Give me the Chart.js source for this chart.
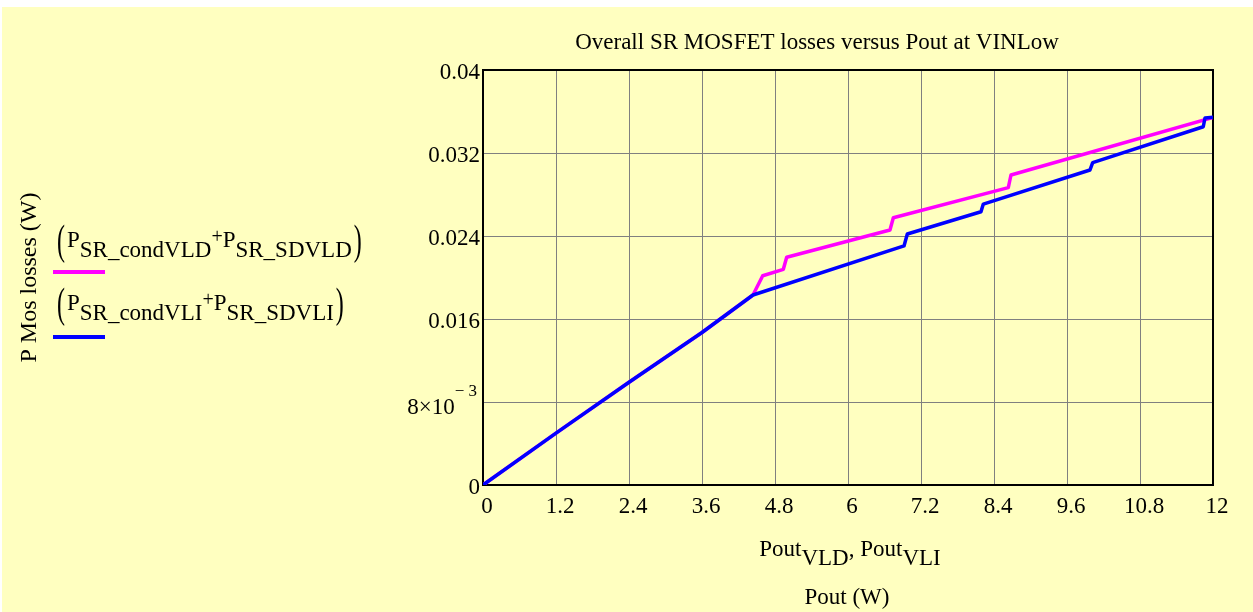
<!DOCTYPE html>
<html>
<head>
<meta charset="utf-8">
<script src="https://cdn.jsdelivr.net/npm/chart.js@4.4.1/dist/chart.umd.min.js"></script>
<style>
  html, body { margin: 0; padding: 0; background: #fff; }
  #wrap { width: 1253px; height: 612px; }
</style>
</head>
<body>
<div id="wrap"><canvas id="losses-chart" width="1253" height="612"></canvas></div>
<script>
// values (Pout in W, losses in W)
const poutVLD = [0, 1.2, 2.4, 3.6, 4.438, 4.598, 4.937, 4.992, 6.690, 6.745, 8.635, 8.679, 12.0];
const lossVLD = [0, 0.0050, 0.0099, 0.0147, 0.01831, 0.02017, 0.02079, 0.02195, 0.02458, 0.02576, 0.02866, 0.02988, 0.03544];

const poutVLI = [0, 1.2, 2.4, 3.6, 4.438, 6.921, 6.975, 8.186, 8.224, 9.978, 10.022, 11.84, 11.868, 12.0];
const lossVLI = [0, 0.0050, 0.0099, 0.0147, 0.01831, 0.02304, 0.02419, 0.02634, 0.02708, 0.03036, 0.03107, 0.03453, 0.03537, 0.03544];

const xTicks = [0, 1.2, 2.4, 3.6, 4.8, 6, 7.2, 8.4, 9.6, 10.8, 12];
const xTickLabels = ['0', '1.2', '2.4', '3.6', '4.8', '6', '7.2', '8.4', '9.6', '10.8', '12'];
const yTicks = [0, 0.008, 0.016, 0.024, 0.032, 0.04];
const yTickLabels = ['0', '8×10^− 3', '0.016', '0.024', '0.032', '0.04'];

const SERIF = "'Liberation Serif', 'Times New Roman', serif";
const W = 1253, H = 612;

function toPts(xs, ys) { return xs.map((x, i) => ({ x, y: ys[i] })); }

// draws a run of text pieces (subscripts etc.)
function drawRich(ctx, parts, x, y, align) {
  let total = 0;
  parts.forEach(p => {
    ctx.font = `${p.size}px ${SERIF}`;
    p.w = ctx.measureText(p.t).width + (p.gap || 0);
    total += p.w;
  });
  let cx = align === 'center' ? x - total / 2 : x;
  parts.forEach(p => {
    ctx.font = `${p.size}px ${SERIF}`;
    if (p.sy) {
      ctx.save();
      ctx.translate(cx, y + (p.dy || 0));
      ctx.scale(1, p.sy);
      ctx.fillText(p.t, 0, 0);
      ctx.restore();
    } else {
      ctx.fillText(p.t, cx, y + (p.dy || 0));
    }
    cx += p.w;
  });
}

const decor = {
  id: 'decor',
  beforeDraw(chart) {
    const { ctx } = chart;
    ctx.save();
    ctx.fillStyle = '#ffffff';
    ctx.fillRect(0, 0, W, H);
    ctx.fillStyle = '#ffffc0';
    ctx.fillRect(2, 7, W - 2, H - 7);
    ctx.restore();
  },
  beforeDatasetsDraw(chart) {
    const { ctx, chartArea: a } = chart;
    ctx.save();
    ctx.strokeStyle = '#000';
    ctx.lineWidth = 2;
    ctx.strokeRect(a.left, a.top, a.right - a.left, a.bottom - a.top);
    ctx.restore();
  },
  afterDraw(chart) {
    const { ctx, chartArea: a } = chart;
    const y = chart.scales.y;
    ctx.save();
    ctx.fillStyle = '#000';
    ctx.textBaseline = 'alphabetic';

    // title
    ctx.font = `23px ${SERIF}`;
    ctx.textAlign = 'center';
    ctx.fillText('Overall SR MOSFET losses versus Pout at VINLow', 817, 49);

    // y axis title
    ctx.save();
    ctx.translate(36, (a.top + a.bottom) / 2);
    ctx.rotate(-Math.PI / 2);
    ctx.font = `24px ${SERIF}`;
    ctx.fillText('P Mos losses (W)', 0, 0);
    ctx.restore();

    // 8x10^-3 tick label
    ctx.textAlign = 'left';
    yTickLabels.forEach((lab, i) => {
      if (!lab.includes('^')) return;
      const [base, sup] = lab.split('^');
      const py = y.getPixelForValue(yTicks[i]);
      ctx.font = `23px ${SERIF}`;
      const bw = ctx.measureText(base).width;
      ctx.font = `17px ${SERIF}`;
      const sw = ctx.measureText(sup).width;
      const right = a.left - 6;
      ctx.font = `23px ${SERIF}`;
      ctx.fillText(base, right - sw - bw, py + 12);
      ctx.font = `17px ${SERIF}`;
      ctx.fillText(sup, right - sw, py - 6);
    });

    // x axis titles
    drawRich(ctx, [
      { t: 'Pout', size: 23 }, { t: 'VLD', size: 23, dy: 9 }, { t: ', ', size: 23 },
      { t: 'Pout', size: 23 }, { t: 'VLI', size: 23, dy: 9 }
    ], 850, 556, 'center');
    ctx.font = `23px ${SERIF}`;
    ctx.textAlign = 'center';
    ctx.fillText('Pout (W)', 847, 604);
    ctx.textAlign = 'left';

    // legend
    const legend = [
      { color: '#ff00ff', base: 247, line: 272, sub1: 'SR_condVLD', sub2: 'SR_SDVLD' },
      { color: '#0000ff', base: 310, line: 337, sub1: 'SR_condVLI', sub2: 'SR_SDVLI' }
    ];
    legend.forEach(l => {
      drawRich(ctx, [
        { t: '(', size: 24, sy: 1.8, dy: 7, gap: 2 },
        { t: 'P', size: 23 }, { t: l.sub1, size: 23, dy: 10 },
        { t: '+', size: 20, dy: -4 },
        { t: 'P', size: 23 }, { t: l.sub2, size: 23, dy: 10, gap: 2 },
        { t: ')', size: 24, sy: 1.8, dy: 7 }
      ], 57, l.base, 'left');
      ctx.strokeStyle = l.color;
      ctx.lineWidth = 4;
      ctx.beginPath();
      ctx.moveTo(53, l.line);
      ctx.lineTo(105, l.line);
      ctx.stroke();
    });
    ctx.restore();
  }
};

new Chart(document.getElementById('losses-chart'), {
  type: 'scatter',
  data: {
    datasets: [
      {
        label: 'P_SR_condVLD + P_SR_SDVLD',
        data: toPts(poutVLD, lossVLD),
        showLine: true,
        borderColor: '#ff00ff',
        borderWidth: 3.5,
        borderJoinStyle: 'round',
        pointRadius: 0,
        order: 2
      },
      {
        label: 'P_SR_condVLI + P_SR_SDVLI',
        data: toPts(poutVLI, lossVLI),
        showLine: true,
        borderColor: '#0000ff',
        borderWidth: 3.5,
        borderJoinStyle: 'round',
        pointRadius: 0,
        order: 1
      }
    ]
  },
  options: {
    responsive: false,
    animation: false,
    devicePixelRatio: 1,
    layout: { padding: { top: 70, right: 40, bottom: 0, left: 0 } },
    plugins: { legend: { display: false }, title: { display: false }, tooltip: { enabled: false } },
    scales: {
      x: {
        type: 'linear', min: 0, max: 12,
        afterBuildTicks: s => { s.ticks = xTicks.map(v => ({ value: v })); },
        afterFit: s => { s.height = 127; },
        grid: { color: '#808080', lineWidth: 1, drawTicks: false },
        border: { display: false },
        ticks: {
          color: '#000', padding: 8, labelOffset: 4, autoSkip: false, maxRotation: 0,
          font: { family: SERIF, size: 23 },
          callback: (v, i) => xTickLabels[i]
        }
      },
      y: {
        type: 'linear', min: 0, max: 0.04,
        afterBuildTicks: s => { s.ticks = yTicks.map(v => ({ value: v })); },
        afterFit: s => { s.width = 483; },
        grid: { color: '#808080', lineWidth: 1, drawTicks: false },
        border: { display: false },
        ticks: {
          color: '#000', padding: 3, labelOffset: 3, autoSkip: false,
          font: { family: SERIF, size: 23 },
          callback: (v, i) => yTickLabels[i].includes('^') ? '' : yTickLabels[i]
        }
      }
    }
  },
  plugins: [decor]
});
</script>
</body>
</html>
